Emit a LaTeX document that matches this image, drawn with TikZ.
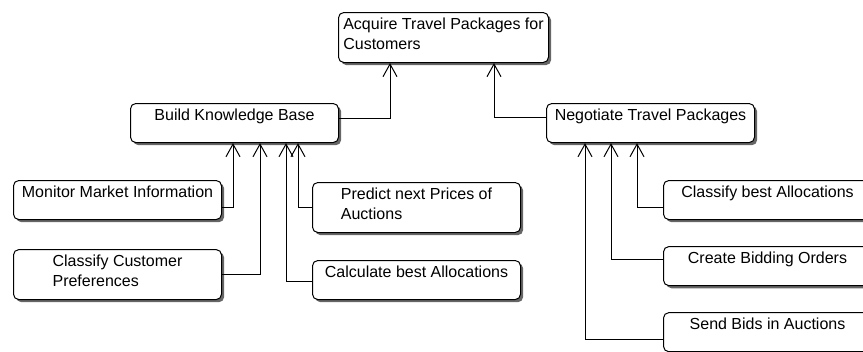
\documentclass[tikz,border=0pt]{standalone}
\usepackage{fontspec}
\setmainfont{Liberation Sans}
\usetikzlibrary{shapes,arrows.meta,positioning,shadows}
\tikzstyle{task} = [rectangle, draw, fill=white, rounded corners=4pt, align=left,
    anchor=north west, inner sep=0pt, minimum width=156pt, text height=12.4pt,
    text depth=16.9pt, font=\fontsize{12}{15}\selectfont,
    drop shadow={shadow xshift=2pt, shadow yshift=-2pt, fill=black!60, opacity=1}]
\tikzstyle{twoline} = [text height=27.4pt, text depth=10.1pt]
\tikzstyle{link} = [draw, -{Straight Barb[length=9.5pt,width=10.5pt]}]

\begin{document}
\begin{tikzpicture}[x=0.75pt,y=-0.75pt,line width=0.75pt]
    \useasboundingbox (0,0) rectangle (863,351);
    \clip (0,0) rectangle (863,351);
    % Place nodes
    \node [task, twoline, minimum width=157.5pt] (acq) at (338,12) {Acquire Travel Packages for\\Customers};
    \node [task] (bkb) at (130,103) {Build Knowledge Base};
    \node [task] (neg) at (546,103) {Negotiate Travel Packages};
    \node [task] (mon) at (13,180) {Monitor Market Information};
    \node [task, twoline, below=21.75pt of mon] (ccp) {Classify Customer\\Preferences};
    \node [task, twoline] (pred) at (312,182) {Predict next Prices of\\Auctions};
    \node [task, below=20.25pt of pred] (calc) {Calculate best Allocations};
    \node [task] (cba) at (663,180) {Classify best Allocations};
    \node [task, below=19.5pt of cba] (cbo) {Create Bidding Orders};
    \node [task, below=19.5pt of cbo] (sba) {Send Bids in Auctions};
    % Draw edges
    \path [link] ([yshift=3.4pt]bkb.east) -| ([xshift=39pt]acq.south west);
    \path [link] ([yshift=4.1pt]neg.west) -| ([xshift=-41.25pt]acq.south east);
    \path [link] ([yshift=-5.6pt]mon.east) -| ([xshift=77.25pt]bkb.south west);
    \path [link] (ccp.east) -| ([xshift=97.5pt]bkb.south west);
    \path [link] (pred.west) -| ([xshift=126pt]bkb.south west);
    \path [link] ([yshift=-1.1pt]calc.west) -| ([xshift=117pt]bkb.south west);
    \path [link] ([yshift=-5.6pt]cba.west) -| ([xshift=68.25pt]neg.south west);
    \path [link] ([yshift=4.9pt]cbo.west) -| ([xshift=48.75pt]neg.south west);
    \path [link] ([yshift=-5.6pt]sba.west) -| ([xshift=29.25pt]neg.south west);
\end{tikzpicture}
\end{document}
